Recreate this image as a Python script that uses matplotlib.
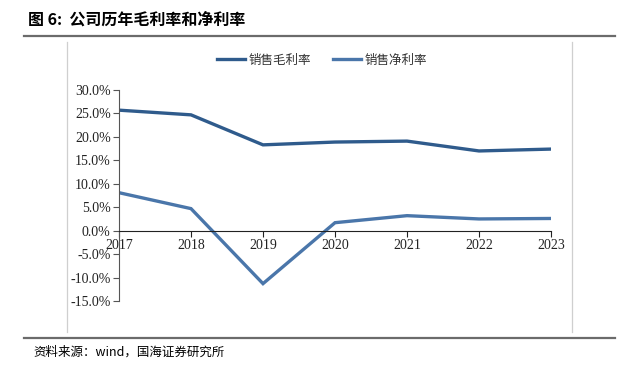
import matplotlib
matplotlib.use('Agg')
import matplotlib.pyplot as plt
from matplotlib.lines import Line2D
from matplotlib.ticker import FuncFormatter

plt.rcParams['font.family'] = ['Noto Sans CJK SC', 'DejaVu Sans']

# data
years = ['2017', '2018', '2019', '2020', '2021', '2022', '2023']
gross_margin = [25.7, 24.7, 18.3, 18.9, 19.1, 17.0, 17.4]
net_margin = [8.1, 4.7, -11.3, 1.7, 3.2, 2.5, 2.6]
series_names = ['销售毛利率', '销售净利率']
title = '图 6:  公司历年毛利率和净利率'
source = '资料来源：wind，国海证券研究所'

W, H = 640, 369
fig = plt.figure(figsize=(W / 100, H / 100), dpi=100)

# axes placed in pixel coordinates of the reference
x0, x1, ytop, ybot = 119, 551, 90, 301
ax = fig.add_axes([x0 / W, 1 - ybot / H, (x1 - x0) / W, (ybot - ytop) / H])

c_gross = '#2F5B8C'
c_net = '#4A76AA'
xs = list(range(len(years)))
ax.plot(xs, gross_margin, color=c_gross, lw=2.4, solid_joinstyle='miter')
ax.plot(xs, net_margin, color=c_net, lw=2.4, solid_joinstyle='miter')

ax.set_xlim(0, len(years) - 1)
ax.set_ylim(-15, 30)
ax.set_yticks(range(-15, 31, 5))
ax.yaxis.set_major_formatter(FuncFormatter(lambda v, p: f'{v:.1f}%'))
ax.set_xticks(xs)
ax.set_xticklabels(years)

for s in ['top', 'right']:
    ax.spines[s].set_visible(False)
ax.spines['bottom'].set_position(('data', 0))
ax.spines['left'].set_color('#555555')
ax.spines['bottom'].set_color('#222222')
ax.tick_params(axis='y', direction='out', length=4, width=0.8, color='#555555', pad=2)
ax.tick_params(axis='x', direction='out', length=4, width=0.8, color='#222222', pad=2)
for lab in ax.get_xticklabels() + ax.get_yticklabels():
    lab.set_fontfamily('Liberation Serif')
    lab.set_fontsize(10)
    lab.set_color('#222222')
ax.patch.set_alpha(0)

# legend
handles = [Line2D([], [], color=c_gross, lw=2.4), Line2D([], [], color=c_net, lw=2.4)]
fig.legend(handles, series_names, loc='center', bbox_to_anchor=(322 / W, 1 - 60 / H),
           ncol=2, frameon=False, fontsize=9, handlelength=2.2, handletextpad=0.3,
           columnspacing=1.8, labelcolor='#333333')

# title and frame lines
fig.text(28 / W, 1 - 20 / H, title, fontsize=11.5, fontweight='bold', va='center', ha='left')
fig.add_artist(Line2D([24 / W, 615 / W], [1 - 36 / H] * 2, color='#6b6b6b', lw=1.6))
fig.add_artist(Line2D([24 / W, 615 / W], [1 - 338 / H] * 2, color='#6b6b6b', lw=1.6))
fig.add_artist(Line2D([67 / W] * 2, [1 - 42 / H, 1 - 332 / H], color='#cfcfcf', lw=0.9))
fig.add_artist(Line2D([572 / W] * 2, [1 - 42 / H, 1 - 332 / H], color='#cfcfcf', lw=0.9))
fig.text(33 / W, 1 - 352 / H, source, fontsize=9, va='center', ha='left')

fig.savefig('out.png', dpi=100)
